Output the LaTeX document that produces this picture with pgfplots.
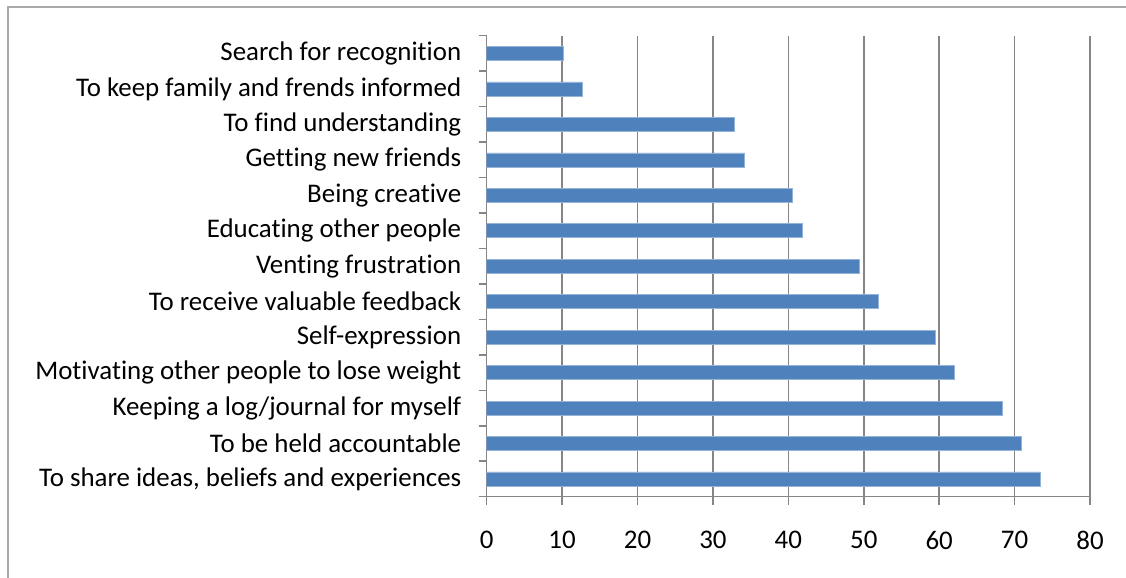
\documentclass[border=0pt]{standalone}
\usepackage{fontspec}
\setmainfont{Carlito}[Ligatures=NoCommon]
\usepackage{pgfplots}
\pgfplotsset{compat=1.18}
\definecolor{barblue}{HTML}{4F81BD}
\definecolor{axgray}{HTML}{868686}
\begin{document}
\begin{tikzpicture}
\useasboundingbox (0,0) rectangle (1126bp,-578bp);
\draw[axgray!70, line width=1.5bp] (8bp,-578bp) -- (8bp,-7bp) -- (1126bp,-7bp);
\begin{axis}[
  at={(486.7bp,-496.7bp)}, anchor=south west,
  scale only axis, width=603.3bp, height=461bp,
  xbar, bar width=14bp,
  xmin=0, xmax=80, ymin=-0.5, ymax=12.5,
  axis lines*=left,
  axis line style={axgray, line width=1.5bp},
  xtick={0,10,...,80},
  xmajorgrids, major grid style={axgray, line width=1.5bp},
  tick align=outside,
  major tick length=8bp,
  tick style={axgray, line width=1.5bp},
  ytick={-0.5,0.5,...,12.5},
  yticklabels={},
  extra y ticks={0,...,12},
  extra y tick labels={{To share ideas, beliefs and experiences},{To be held accountable},{Keeping a log/journal for myself},{Motivating other people to lose weight},{Self-expression},{To receive valuable feedback},{Venting frustration},{Educating other people},{Being creative},{Getting new friends},{To find understanding},{To keep family and frends informed},{Search for recognition}},
  extra y tick style={major tick length=0pt, tick style={draw=none}},
  yticklabel style={font=\fontsize{27}{31}\selectfont, xshift=-22bp},
  xticklabel style={font=\fontsize{27}{31}\selectfont, yshift=-23bp},
  /pgf/number format/assume math mode=true,
]
\addplot[fill=barblue, draw=barblue!60!white, line width=0.6bp] coordinates {
(73.4,0) (70.9,1) (68.4,2) (62.0,3) (59.5,4) (51.9,5) (49.4,6) (41.8,7) (40.5,8) (34.2,9) (32.8,10) (12.7,11) (10.1,12)
};
\end{axis}
\end{tikzpicture}
\end{document}
